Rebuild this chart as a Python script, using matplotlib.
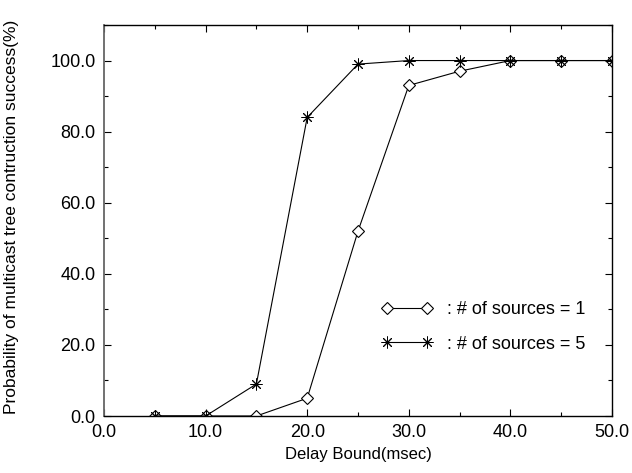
import numpy as np
import matplotlib as mpl
mpl.use('Agg')
import matplotlib.pyplot as plt
from matplotlib.ticker import MultipleLocator, FormatStrFormatter

delay = [5, 10, 15, 20, 25, 30, 35, 40, 45, 50]
src1 = [0, 0, 0, 5, 52, 93, 97, 100, 100, 100]
src5 = [0, 0, 9, 84, 99, 100, 100, 100, 100, 100]

mpl.rc('font', family=['Liberation Sans', 'DejaVu Sans'], size=13)

fig = plt.figure(figsize=(6.32, 4.73), dpi=100)
ax = fig.add_axes([104/632, 1-416/473, 508/632, 391/473])

ax.plot(delay, src1, color='k', lw=0.8, marker='D', ms=6.5, mfc='white', mec='k',
        mew=0.8, label=': # of sources = 1')
ax.plot(delay, src5, color='k', lw=0.8, marker=(8, 2, 0), ms=8.5, mec='k',
        mew=0.7, label=': # of sources = 5')

ax.set_xlim(0, 50)
ax.set_ylim(0, 110)
ax.xaxis.set_major_locator(MultipleLocator(10))
ax.xaxis.set_minor_locator(MultipleLocator(5))
ax.yaxis.set_major_locator(MultipleLocator(20))
ax.yaxis.set_minor_locator(MultipleLocator(10))
ax.xaxis.set_major_formatter(FormatStrFormatter('%.1f'))
ax.yaxis.set_major_formatter(FormatStrFormatter('%.1f'))
ax.tick_params(which='both', direction='in', top=True, right=True, width=0.8)
ax.tick_params(which='major', length=5, pad=6)
ax.tick_params(which='minor', length=3)
for s in ax.spines.values():
    s.set_linewidth(1.0)
ax.spines['left'].set_color('#666666')
ax.spines['left'].set_linewidth(1.3)

ax.set_xlabel('Delay Bound(msec)', fontsize=12, labelpad=4)
ax.set_ylabel('Probability of multicast tree contruction success(%)', fontsize=12.5,
              labelpad=18)
ax.yaxis.set_label_coords(-0.168, 0.51)

ax.legend(loc='center left', bbox_to_anchor=((382-104)/508, (416-327)/391),
          frameon=False, numpoints=2, handlelength=2.8, handletextpad=0.8,
          labelspacing=0.95, borderpad=0, borderaxespad=0)

fig.savefig('out.png', dpi=100)
